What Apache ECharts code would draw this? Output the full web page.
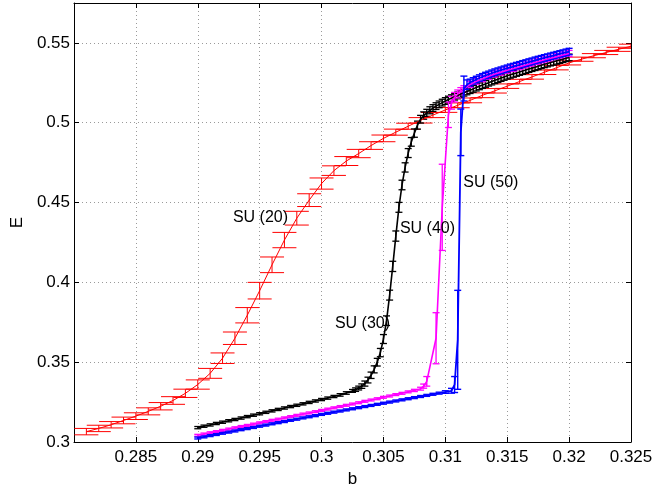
<!DOCTYPE html>
<html>
<head>
<meta charset="utf-8">
<script src="https://cdn.jsdelivr.net/npm/echarts@6/dist/echarts.min.js"></script>
<style>
  html, body { margin: 0; padding: 0; background: #fff; }
  #chart { width: 656px; height: 493px; }
</style>
</head>
<body>
<div id="chart"></div>
<script>
// Each row: [b, E, error half-height]
const su20 = [
  [0.281,0.3065,0.0020],[0.282,0.3085,0.0020],[0.283,0.3108,0.0020],[0.284,0.3135,0.0021],
  [0.285,0.3162,0.0021],[0.286,0.3192,0.0022],[0.287,0.3224,0.0023],[0.288,0.3260,0.0024],
  [0.289,0.3305,0.0026],[0.290,0.3360,0.0029],[0.291,0.3430,0.0031],[0.292,0.3525,0.0033],
  [0.293,0.3650,0.0039],[0.294,0.3794,0.0048],[0.295,0.3948,0.0052],[0.296,0.4110,0.0049],
  [0.297,0.4265,0.0048],[0.298,0.4402,0.0043],[0.299,0.4515,0.0040],[0.300,0.4619,0.0035],
  [0.301,0.4700,0.0030],[0.302,0.4760,0.0028],[0.303,0.4807,0.0026],[0.304,0.4857,0.0024],
  [0.305,0.4902,0.0021],[0.306,0.4941,0.0019],[0.307,0.4978,0.0019],[0.308,0.5015,0.0017],
  [0.309,0.5048,0.0016],[0.310,0.5080,0.0015],[0.311,0.5109,0.0015],[0.312,0.5140,0.0015],
  [0.313,0.5172,0.0015],[0.314,0.5200,0.0014],[0.315,0.5229,0.0014],[0.316,0.5258,0.0014],
  [0.317,0.5287,0.0014],[0.318,0.5316,0.0014],[0.319,0.5345,0.0014],[0.320,0.5375,0.0013],
  [0.321,0.5398,0.0013],[0.322,0.5420,0.0013],[0.323,0.5440,0.0013],[0.324,0.5460,0.0013],
  [0.325,0.5479,0.0013]
];

const su30 = [
  [0.2900,0.3090,0.0007],[0.2905,0.3099,0.0007],[0.2910,0.3107,0.0007],[0.2915,0.3116,0.0007],
  [0.2920,0.3124,0.0007],[0.2925,0.3133,0.0007],[0.2930,0.3141,0.0007],[0.2935,0.3150,0.0007],
  [0.2940,0.3159,0.0007],[0.2945,0.3168,0.0007],[0.2950,0.3177,0.0007],[0.2955,0.3186,0.0007],
  [0.2960,0.3195,0.0007],[0.2965,0.3204,0.0007],[0.2970,0.3213,0.0007],[0.2975,0.3222,0.0007],
  [0.2980,0.3230,0.0007],[0.2985,0.3239,0.0007],[0.2990,0.3248,0.0007],[0.2995,0.3257,0.0007],
  [0.3000,0.3266,0.0007],[0.3005,0.3275,0.0007],[0.3010,0.3285,0.0007],[0.3015,0.3295,0.0008],
  [0.3020,0.3307,0.0008],[0.3025,0.3320,0.0009],
  [0.30275,0.3328,0.0011],[0.30300,0.3338,0.0012],[0.30325,0.3350,0.0014],[0.30350,0.3366,0.0016],
  [0.30375,0.3388,0.0018],[0.30400,0.3418,0.0020],[0.30425,0.3455,0.0022],[0.30450,0.3500,0.0024],
  [0.30475,0.3560,0.0026],[0.30500,0.3645,0.0028],[0.30525,0.3760,0.0030],[0.30550,0.3920,0.0031],
  [0.30575,0.4100,0.0032],[0.30600,0.4290,0.0032],[0.30625,0.4470,0.0031],[0.30650,0.4610,0.0030],
  [0.30675,0.4720,0.0029],[0.30700,0.4810,0.0028],[0.30725,0.4880,0.0027],[0.30750,0.4935,0.0026],
  [0.30775,0.4985,0.0025],[0.30800,0.5022,0.0024],[0.30825,0.5045,0.0023],[0.30850,0.5062,0.0022],
  [0.30875,0.5078,0.0022],[0.30900,0.5092,0.0021],[0.30925,0.5104,0.0021],[0.30950,0.5115,0.0021],
  [0.30975,0.5126,0.0021],[0.31000,0.5136,0.0021],[0.31025,0.5145,0.0021],[0.31050,0.5154,0.0021],
  [0.31075,0.5163,0.0021],[0.31100,0.5171,0.0021],[0.31125,0.5180,0.0021],[0.31150,0.5188,0.0021],
  [0.31175,0.5196,0.0021],[0.31200,0.5204,0.0021],[0.31225,0.5212,0.0021],[0.31250,0.5220,0.0021],
  [0.31275,0.5228,0.0021],[0.31300,0.5236,0.0021],[0.31325,0.5243,0.0021],[0.31350,0.5251,0.0021],
  [0.31375,0.5258,0.0021],[0.31400,0.5266,0.0021],[0.31425,0.5273,0.0021],[0.31450,0.5280,0.0021],
  [0.31475,0.5287,0.0021],[0.31500,0.5294,0.0021],[0.31525,0.5300,0.0021],[0.31550,0.5306,0.0021],
  [0.31575,0.5312,0.0021],[0.31600,0.5318,0.0021],[0.31625,0.5324,0.0021],[0.31650,0.5330,0.0021],
  [0.31675,0.5336,0.0021],[0.31700,0.5342,0.0021],[0.31725,0.5348,0.0021],[0.31750,0.5354,0.0021],
  [0.31775,0.5360,0.0021],[0.31800,0.5366,0.0021],[0.31825,0.5371,0.0021],[0.31850,0.5377,0.0021],
  [0.31875,0.5382,0.0021],[0.31900,0.5388,0.0021],[0.31925,0.5393,0.0021],[0.31950,0.5398,0.0021],
  [0.31975,0.5404,0.0021],[0.32000,0.5409,0.0021]
];

const su40 = [
  [0.2900,0.3042,0.0006],[0.2905,0.3050,0.0006],[0.2910,0.3058,0.0006],[0.2915,0.3065,0.0006],
  [0.2920,0.3073,0.0006],[0.2925,0.3081,0.0006],[0.2930,0.3089,0.0006],[0.2935,0.3097,0.0006],
  [0.2940,0.3104,0.0006],[0.2945,0.3112,0.0006],[0.2950,0.3120,0.0006],[0.2955,0.3128,0.0006],
  [0.2960,0.3136,0.0006],[0.2965,0.3143,0.0006],[0.2970,0.3151,0.0006],[0.2975,0.3159,0.0006],
  [0.2980,0.3167,0.0006],[0.2985,0.3175,0.0006],[0.2990,0.3182,0.0006],[0.2995,0.3190,0.0006],
  [0.3000,0.3198,0.0006],[0.3005,0.3206,0.0006],[0.3010,0.3214,0.0006],[0.3015,0.3222,0.0006],
  [0.3020,0.3230,0.0006],[0.3025,0.3238,0.0006],[0.3030,0.3246,0.0006],[0.3035,0.3255,0.0006],
  [0.3040,0.3263,0.0006],[0.3045,0.3271,0.0006],[0.3050,0.3280,0.0006],[0.3055,0.3288,0.0006],
  [0.3060,0.3297,0.0006],[0.3065,0.3305,0.0006],[0.3070,0.3314,0.0006],[0.3075,0.3323,0.0007],
  [0.3080,0.3334,0.0009],[0.30825,0.3350,0.0013],[0.30850,0.3380,0.0030],[0.30925,0.3650,0.0160],
  [0.30975,0.4470,0.0270],[0.31025,0.5050,0.0080],[0.31050,0.5125,0.0040],[0.31075,0.5160,0.0030],
  [0.31100,0.5180,0.0025],[0.31125,0.5198,0.0022],[0.31150,0.5212,0.0020],
  [0.3120,0.5240,0.0019],[0.3125,0.5259,0.0019],[0.3130,0.5276,0.0019],[0.3135,0.5291,0.0019],
  [0.3140,0.5305,0.0019],[0.3145,0.5317,0.0019],[0.3150,0.5329,0.0019],[0.3155,0.5340,0.0019],
  [0.3160,0.5351,0.0019],[0.3165,0.5362,0.0019],[0.3170,0.5373,0.0019],[0.3175,0.5384,0.0019],
  [0.3180,0.5394,0.0019],[0.3185,0.5404,0.0019],[0.3190,0.5414,0.0019],[0.3195,0.5424,0.0019],
  [0.3200,0.5434,0.0019]
];

const su50 = [
  [0.2900,0.3025,0.0006],[0.2905,0.3032,0.0006],[0.2910,0.3040,0.0006],[0.2915,0.3047,0.0006],
  [0.2920,0.3055,0.0006],[0.2925,0.3062,0.0006],[0.2930,0.3069,0.0006],[0.2935,0.3077,0.0006],
  [0.2940,0.3084,0.0006],[0.2945,0.3091,0.0006],[0.2950,0.3099,0.0006],[0.2955,0.3106,0.0006],
  [0.2960,0.3114,0.0006],[0.2965,0.3121,0.0006],[0.2970,0.3128,0.0006],[0.2975,0.3136,0.0006],
  [0.2980,0.3143,0.0006],[0.2985,0.3151,0.0006],[0.2990,0.3158,0.0006],[0.2995,0.3165,0.0006],
  [0.3000,0.3173,0.0006],[0.3005,0.3180,0.0006],[0.3010,0.3187,0.0006],[0.3015,0.3194,0.0006],
  [0.3020,0.3201,0.0006],[0.3025,0.3208,0.0006],[0.3030,0.3215,0.0006],[0.3035,0.3222,0.0006],
  [0.3040,0.3229,0.0006],[0.3045,0.3236,0.0006],[0.3050,0.3243,0.0006],[0.3055,0.3250,0.0006],
  [0.3060,0.3257,0.0006],[0.3065,0.3264,0.0006],[0.3070,0.3271,0.0006],[0.3075,0.3278,0.0006],
  [0.3080,0.3285,0.0006],[0.3085,0.3292,0.0006],[0.3090,0.3299,0.0006],[0.3095,0.3306,0.0006],
  [0.3100,0.3313,0.0008],[0.3105,0.3321,0.0015],
  [0.31075,0.3360,0.0050],[0.31100,0.3640,0.0310],[0.31125,0.4940,0.0146],[0.31150,0.5214,0.0078],
  [0.31175,0.5238,0.0030],[0.31200,0.5252,0.0021],[0.31225,0.5262,0.0020],[0.31250,0.5271,0.0020],
  [0.31275,0.5280,0.0020],[0.31300,0.5288,0.0020],[0.31325,0.5296,0.0020],[0.31350,0.5303,0.0020],
  [0.31375,0.5310,0.0020],[0.31400,0.5317,0.0020],[0.31425,0.5323,0.0020],[0.31450,0.5329,0.0020],
  [0.31475,0.5335,0.0020],[0.31500,0.5341,0.0020],[0.31525,0.5347,0.0020],[0.31550,0.5352,0.0020],
  [0.31575,0.5358,0.0020],[0.31600,0.5363,0.0020],[0.31625,0.5369,0.0020],[0.31650,0.5374,0.0020],
  [0.31675,0.5380,0.0020],[0.31700,0.5385,0.0020],[0.31725,0.5391,0.0020],[0.31750,0.5396,0.0020],
  [0.31775,0.5401,0.0020],[0.31800,0.5406,0.0020],[0.31825,0.5411,0.0020],[0.31850,0.5416,0.0020],
  [0.31875,0.5421,0.0020],[0.31900,0.5426,0.0020],[0.31925,0.5431,0.0020],[0.31950,0.5436,0.0020],
  [0.31975,0.5441,0.0020],[0.32000,0.5446,0.0020]
];

// Curve annotations: [text, b, E] (text starts at b, vertically centred on E)
const curveLabels = [
  ['SU (20)', 0.29284, 0.4404],
  ['SU (30)', 0.30108, 0.3744],
  ['SU (40)', 0.30633, 0.4334],
  ['SU (50)', 0.31145, 0.4625]
];

const bRange = { min: 0.28, max: 0.325, step: 0.005 };
const eRange = { min: 0.30, max: 0.575, step: 0.05 };

const FONT = '"Liberation Sans", Arial, Helvetica, sans-serif';

function fmt(v) { return String(+v.toFixed(3)); }

function errorBars(rows, color, capHalf, width) {
  return {
    type: 'custom',
    silent: true,
    clip: true,
    data: rows.map(r => [r[0], r[1] - r[2], r[1] + r[2]]),
    encode: { x: 0, y: [1, 2] },
    renderItem(params, api) {
      const b = api.value(0);
      const lo = api.coord([b, api.value(1)]);
      const hi = api.coord([b, api.value(2)]);
      const st = { stroke: color, lineWidth: width };
      return {
        type: 'group',
        children: [
          { type: 'line', shape: { x1: lo[0], y1: lo[1], x2: hi[0], y2: hi[1] }, style: st },
          { type: 'line', shape: { x1: lo[0] - capHalf, y1: lo[1], x2: lo[0] + capHalf, y2: lo[1] }, style: st },
          { type: 'line', shape: { x1: hi[0] - capHalf, y1: hi[1], x2: hi[0] + capHalf, y2: hi[1] }, style: st }
        ]
      };
    }
  };
}

function curve(rows, color, width) {
  return {
    type: 'line',
    silent: true,
    clip: true,
    showSymbol: false,
    data: rows.map(r => [r[0], r[1]]),
    lineStyle: { color: color, width: width },
    itemStyle: { color: color }
  };
}

const gridDots = { show: true, lineStyle: { color: '#9a9a9a', width: 1, type: [1, 3] } };
const boxLine = { show: true, onZero: false, lineStyle: { color: '#000', width: 1 } };
const inTick = { show: true, inside: true, length: 5, lineStyle: { color: '#000', width: 1 } };

const chart = echarts.init(document.getElementById('chart'), null, { renderer: 'canvas' });
chart.setOption({
  animation: false,
  backgroundColor: '#fff',
  grid: { left: 74, right: 25, top: 3, bottom: 51, containLabel: false },
  xAxis: [
    {
      type: 'value', position: 'bottom',
      min: bRange.min, max: bRange.max, interval: bRange.step,
      axisLine: boxLine, axisTick: inTick, splitLine: gridDots,
      axisLabel: {
        color: '#000', fontSize: 17, fontFamily: FONT, margin: 7,
        formatter: v => (Math.abs(v - bRange.min) < 1e-9 ? '' : fmt(v))
      },
      name: 'b', nameLocation: 'middle', nameGap: 28,
      nameTextStyle: { color: '#000', fontSize: 17, fontFamily: FONT }
    },
    {
      type: 'value', position: 'top',
      min: bRange.min, max: bRange.max, interval: bRange.step,
      axisLine: boxLine, axisTick: inTick, axisLabel: { show: false }, splitLine: { show: false }
    }
  ],
  yAxis: [
    {
      type: 'value', position: 'left',
      min: eRange.min, max: eRange.max, interval: eRange.step,
      axisLine: boxLine, axisTick: inTick, splitLine: gridDots,
      axisLabel: {
        color: '#000', fontSize: 17, fontFamily: FONT, margin: 4,
        formatter: v => (v > 0.5701 ? '' : fmt(v))
      },
      name: 'E', nameLocation: 'middle', nameGap: 48, nameRotate: 90,
      nameTextStyle: { color: '#000', fontSize: 17, fontFamily: FONT }
    },
    {
      type: 'value', position: 'right',
      min: eRange.min, max: eRange.max, interval: eRange.step,
      axisLine: boxLine, axisTick: inTick, axisLabel: { show: false }, splitLine: { show: false }
    }
  ],
  series: [
    curve(su20, '#ff0000', 1),
    errorBars(su20, '#ff0000', 12, 1),
    curve(su30, '#000000', 1.6),
    errorBars(su30, '#000000', 3.5, 1.3),
    curve(su40, '#ff00ff', 1.6),
    errorBars(su40, '#ff00ff', 3.5, 1.3),
    curve(su50, '#0000ff', 1.8),
    errorBars(su50, '#0000ff', 3.5, 1.4),
    {
      type: 'custom',
      silent: true,
      data: curveLabels.map(l => [l[1], l[2]]),
      encode: { x: 0, y: 1 },
      renderItem(params, api) {
        const p = api.coord([api.value(0), api.value(1)]);
        return {
          type: 'text', x: p[0], y: p[1],
          style: {
            text: curveLabels[params.dataIndex][0],
            fill: '#000', fontSize: 16, fontFamily: FONT,
            align: 'left', verticalAlign: 'middle'
          }
        };
      },
      z: 10
    }
  ]
});
</script>
</body>
</html>
